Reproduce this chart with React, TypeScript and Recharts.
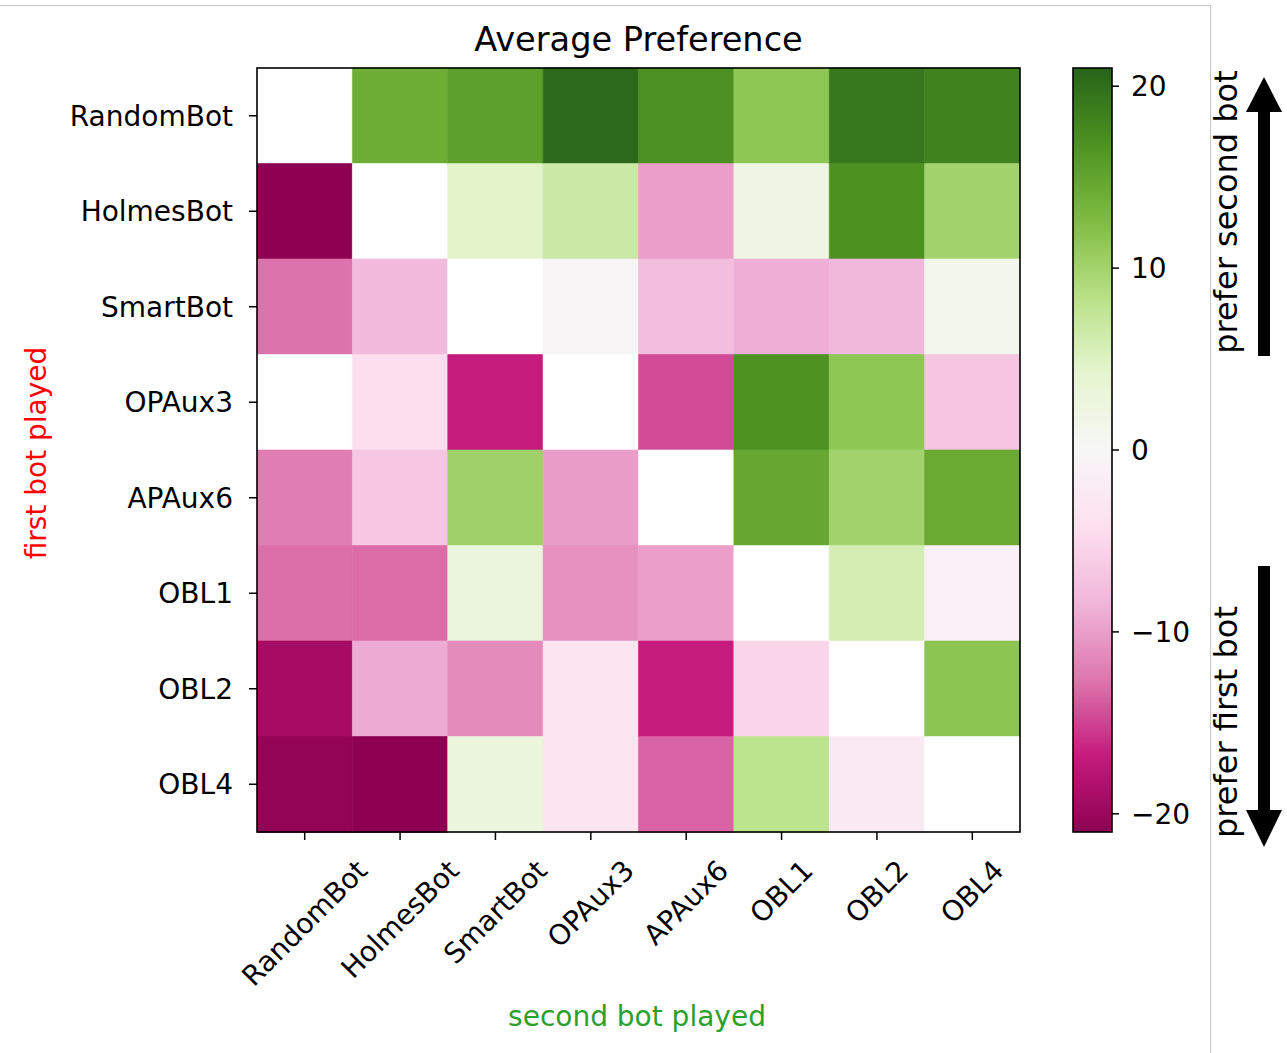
import React from "react"
import { BarChart, Bar, XAxis, YAxis, Cell } from "recharts"

const BOTS = [
  "RandomBot",
  "HolmesBot",
  "SmartBot",
  "OPAux3",
  "APAux6",
  "OBL1",
  "OBL2",
  "OBL4",
]

// one array per first bot (row), one entry per second bot (column); null = not played
const PREF_RANDOMBOT = [null, 14, 15.5, 20.5, 17, 11.4, 19.2, 18.3]
const PREF_HOLMESBOT = [-21, null, 4.5, 6.7, -10, 2.2, 16.8, 10]
const PREF_SMARTBOT = [-12.8, -8, null, -0.3, -7.7, -8.9, -8.2, 1.2]
const PREF_OPAUX3 = [null, -4.4, -16.8, null, -14.6, 16.7, 11.4, -6.9]
const PREF_APAUX6 = [-12.2, -6.8, 10.2, -10.1, null, 14.7, 10, 14.4]
const PREF_OBL1 = [-13, -13.1, 2.7, -10.9, -10, null, 5.9, -1.3]
const PREF_OBL2 = [-19.2, -9.1, -11.3, -3.5, -16.8, -5.4, null, 11.7]
const PREF_OBL4 = [-20.6, -21, 2.8, -3.5, -13.5, 8, -2.4, null]

const MATRIX = [
  PREF_RANDOMBOT,
  PREF_HOLMESBOT,
  PREF_SMARTBOT,
  PREF_OPAUX3,
  PREF_APAUX6,
  PREF_OBL1,
  PREF_OBL2,
  PREF_OBL4,
]

const VMIN = -21
const VMAX = 21
const CBAR_TICKS = [-20, -10, 0, 10, 20]

// matplotlib PiYG anchors
const PIYG = [
  "#8e0152",
  "#c51b7d",
  "#de77ae",
  "#f1b6da",
  "#fde0ef",
  "#f7f7f7",
  "#e6f5d0",
  "#b8e186",
  "#7fbc41",
  "#4d9221",
  "#276419",
]

const FONT = "'DejaVu Sans', sans-serif"

function hexToRgb(h: string) {
  return [1, 3, 5].map((i) => parseInt(h.slice(i, i + 2), 16))
}

function piyg(v: number | null) {
  if (v === null) return "#ffffff"
  let t = (v - VMIN) / (VMAX - VMIN)
  t = Math.max(0, Math.min(1, t))
  const p = t * (PIYG.length - 1)
  const i = Math.min(Math.floor(p), PIYG.length - 2)
  const f = p - i
  const a = hexToRgb(PIYG[i])
  const b = hexToRgb(PIYG[i + 1])
  const c = a.map((x, k) => Math.round(x + (b[k] - x) * f))
  return `rgb(${c[0]},${c[1]},${c[2]})`
}

let canvas: HTMLCanvasElement | null = null
function textWidth(text: string, size: number) {
  if (!canvas) canvas = document.createElement("canvas")
  const ctx = canvas.getContext("2d")!
  ctx.font = `${size}px 'DejaVu Sans'`
  return ctx.measureText(text).width
}

const rows = BOTS.map((bot) => {
  const r: Record<string, unknown> = { row: bot }
  BOTS.forEach((_, j) => (r[`c${j}`] = 1))
  return r
})

const colTicks = BOTS.map((_, i) => i + 0.5)

function RotatedTick(props: any) {
  const { x, y, payload } = props
  const label = BOTS[Math.floor(payload.value)]
  const size = 28
  const L = textWidth(label, size)
  const h = size * 1.164
  const boxH = (L + h) * Math.SQRT1_2
  const cy = y + 14 + boxH / 2
  return (
    <text
      x={x}
      y={cy}
      textAnchor="middle"
      dominantBaseline="central"
      transform={`rotate(-45, ${x}, ${cy})`}
      fontSize={size}
      fontFamily={FONT}
      fill="#000"
    >
      {label}
    </text>
  )
}

const fmtTick = (v: number) => (v < 0 ? `\u2212${Math.abs(v)}` : `${v}`)

export default function App() {
  return (
    <div
      style={{
        position: "absolute",
        left: 0,
        top: 0,
        width: 1287,
        height: 1053,
        background: "#fff",
        fontFamily: FONT,
      }}
    >
      <div style={{ position: "absolute", left: 0, top: 0 }}>
        <BarChart
          width={1287}
          height={1053}
          data={rows}
          layout="vertical"
          margin={{ top: 68, right: 267, bottom: 0, left: 0 }}
          barCategoryGap={0}
          barGap={0}
        >
          <XAxis
            type="number"
            domain={[0, 8]}
            ticks={colTicks}
            interval={0}
            allowDataOverflow
            height={221}
            axisLine={false}
            tickSize={8}
            tickMargin={0}
            tickLine={{ stroke: "#000", strokeWidth: 1.5 }}
            tick={<RotatedTick />}
          />
          <YAxis
            type="category"
            dataKey="row"
            width={257}
            interval={0}
            axisLine={false}
            tickSize={8}
            tickMargin={16}
            tickLine={{ stroke: "#000", strokeWidth: 1.5 }}
            tick={{ fontSize: 28, fill: "#000", fontFamily: FONT }}
          />
          {BOTS.map((_, j) => (
            <Bar
              key={j}
              dataKey={`c${j}`}
              stackId="grid"
              isAnimationActive={false}
            >
              {MATRIX.map((vals, i) => (
                <Cell
                  key={i}
                  fill={piyg(vals[j])}
                  stroke={piyg(vals[j])}
                  strokeWidth={0.6}
                />
              ))}
            </Bar>
          ))}
        </BarChart>
      </div>

      <div style={{ position: "absolute", left: 1073, top: 0 }}>
        <BarChart
          width={214}
          height={1053}
          data={[{ name: "cb", span: [VMIN, VMAX] }]}
          margin={{ top: 68, right: 0, bottom: 221, left: 0 }}
          barCategoryGap={0}
        >
          <defs>
            <linearGradient id="piygGrad" x1="0" y1="0" x2="0" y2="1">
              {PIYG.map((c, i) => (
                <stop
                  key={i}
                  offset={`${(i / (PIYG.length - 1)) * 100}%`}
                  stopColor={PIYG[PIYG.length - 1 - i]}
                />
              ))}
            </linearGradient>
          </defs>
          <XAxis dataKey="name" hide />
          <YAxis
            orientation="right"
            type="number"
            domain={[VMIN, VMAX]}
            ticks={CBAR_TICKS}
            interval={0}
            allowDataOverflow
            width={175}
            axisLine={false}
            tickSize={7}
            tickMargin={12}
            tickLine={{ stroke: "#000", strokeWidth: 1.5 }}
            tick={{ fontSize: 28, fill: "#000", fontFamily: FONT }}
            tickFormatter={fmtTick}
          />
          <Bar dataKey="span" fill="url(#piygGrad)" isAnimationActive={false} />
        </BarChart>
      </div>

      <svg
        width={1287}
        height={1053}
        style={{ position: "absolute", left: 0, top: 0, pointerEvents: "none" }}
      >
        <line x1={0} y1={5.5} x2={1211} y2={5.5} stroke="#c8c8c8" strokeWidth={1} />
        <line x1={1210.5} y1={5} x2={1210.5} y2={1053} stroke="#c8c8c8" strokeWidth={1} />

        <rect x={257} y={68} width={763} height={764} fill="none" stroke="#000" strokeWidth={1.6} />
        <rect x={1073} y={68} width={39} height={764} fill="none" stroke="#000" strokeWidth={1.6} />

        <text x={638.5} y={51} textAnchor="middle" fontSize={33.6} fontFamily={FONT} fill="#000">
          Average Preference
        </text>
        <text x={637} y={1026} textAnchor="middle" fontSize={28} fontFamily={FONT} fill="#2ca02c">
          second bot played
        </text>
        <text
          x={46}
          y={453}
          textAnchor="middle"
          fontSize={28}
          fontFamily={FONT}
          fill="#ff0000"
          transform="rotate(-90, 46, 453)"
        >
          first bot played
        </text>

        <text
          x={1237}
          y={212}
          textAnchor="middle"
          fontSize={32}
          fontFamily={FONT}
          fill="#000"
          transform="rotate(-90, 1237, 212)"
        >
          prefer second bot
        </text>
        <text
          x={1237}
          y={722}
          textAnchor="middle"
          fontSize={32}
          fontFamily={FONT}
          fill="#000"
          transform="rotate(-90, 1237, 722)"
        >
          prefer first bot
        </text>

        <rect x={1258} y={110} width={12} height={246} fill="#000" />
        <polygon points="1246,112 1264,77 1282,112" fill="#000" />
        <rect x={1258} y={566} width={12} height={246} fill="#000" />
        <polygon points="1246,810 1264,847 1282,810" fill="#000" />
      </svg>
    </div>
  )
}
